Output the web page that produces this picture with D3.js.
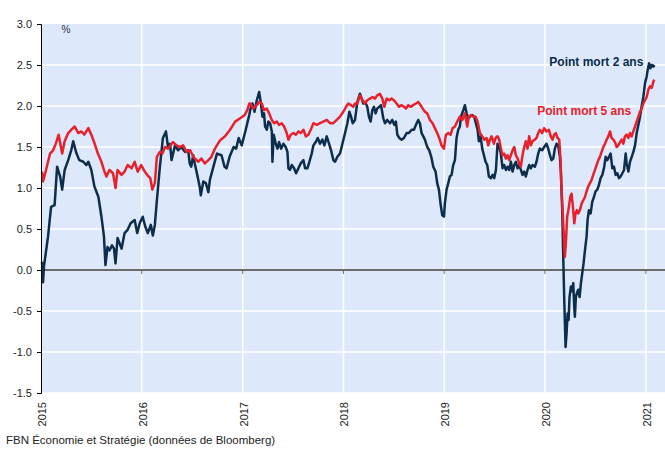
<!DOCTYPE html>
<html>
<head>
<meta charset="utf-8">
<script src="https://cdn.jsdelivr.net/npm/d3@7"></script>
<style>
  body { margin: 0; background: #fff; }
  text { font-family: Arial, "Liberation Sans", sans-serif; }
</style>
</head>
<body>
<svg id="chart"></svg>
<script>
// values (decimal year, %)
const yTicks = [-1.5, -1.0, -0.5, 0.0, 0.5, 1.0, 1.5, 2.0, 2.5, 3.0];
const xYears = [2015, 2016, 2017, 2018, 2019, 2020, 2021];
const seriesLabels = ["Point mort 2 ans", "Point mort 5 ans"];
const unitLabel = "%";
const sourceText = "FBN Économie et Stratégie (données de Bloomberg)";

const pointMort2 = [
  [2015.01,0.10],[2015.02,-0.15],[2015.03,0.05],[2015.07,0.41],[2015.10,0.77],[2015.135,0.79],[2015.16,1.26],[2015.19,1.14],
  [2015.21,0.98],[2015.235,1.22],[2015.27,1.34],[2015.30,1.46],[2015.32,1.57],[2015.35,1.43],[2015.38,1.34],[2015.42,1.32],
  [2015.45,1.28],[2015.47,1.32],[2015.50,1.22],[2015.53,1.02],[2015.57,0.89],[2015.60,0.65],[2015.625,0.41],[2015.64,0.06],
  [2015.66,0.28],[2015.68,0.24],[2015.705,0.30],[2015.725,0.26],[2015.74,0.08],[2015.76,0.39],[2015.80,0.26],[2015.83,0.45],
  [2015.86,0.49],[2015.89,0.57],[2015.93,0.61],[2015.955,0.45],[2015.98,0.57],[2016.01,0.65],[2016.035,0.53],[2016.06,0.45],
  [2016.09,0.55],[2016.11,0.42],[2016.13,0.55],[2016.15,0.85],[2016.18,1.26],[2016.21,1.61],[2016.24,1.69],[2016.26,1.50],
  [2016.28,1.54],[2016.295,1.34],[2016.33,1.52],[2016.36,1.46],[2016.39,1.50],[2016.43,1.44],[2016.46,1.46],[2016.475,1.30],
  [2016.49,1.26],[2016.51,1.40],[2016.525,1.30],[2016.55,1.16],[2016.575,1.01],[2016.585,0.91],[2016.61,1.08],[2016.635,1.06],
  [2016.66,0.95],[2016.675,1.10],[2016.71,1.26],[2016.745,1.42],[2016.79,1.40],[2016.82,1.26],[2016.84,1.24],[2016.87,1.38],
  [2016.91,1.50],[2016.935,1.48],[2016.96,1.61],[2016.99,1.52],[2017.03,1.71],[2017.065,1.89],
  [2017.074,1.95],[2017.097,2.03],[2017.117,1.93],[2017.140,2.07],[2017.163,2.17],[2017.179,2.05],[2017.196,1.87],[2017.212,1.91],
  [2017.222,1.75],[2017.239,1.71],[2017.255,1.81],[2017.272,1.79],[2017.289,1.69],[2017.295,1.32],[2017.308,1.65],[2017.328,1.54],
  [2017.345,1.48],[2017.361,1.56],[2017.381,1.48],[2017.404,1.54],[2017.427,1.50],[2017.444,1.44],[2017.454,1.24],[2017.470,1.22],
  [2017.487,1.28],[2017.510,1.24],[2017.530,1.18],[2017.553,1.24],[2017.576,1.30],[2017.603,1.34],[2017.619,1.24],[2017.642,1.24],
  [2017.662,1.32],[2017.685,1.42],[2017.702,1.52],[2017.725,1.56],[2017.745,1.61],[2017.768,1.54],[2017.791,1.59],[2017.811,1.52],
  [2017.834,1.63],[2017.857,1.54],[2017.877,1.46],[2017.900,1.34],[2017.917,1.32],[2017.940,1.38],[2017.966,1.42],[2017.990,1.54],
  [2018.016,1.67],[2018.039,1.79],[2018.059,1.93],[2018.076,1.87],[2018.092,1.79],[2018.115,1.83],
  [2018.138,2.05],[2018.164,2.15],[2018.181,2.09],[2018.197,2.03],[2018.214,2.05],[2018.237,1.99],[2018.253,1.87],[2018.270,1.81],
  [2018.287,1.95],[2018.303,1.99],[2018.320,1.91],[2018.336,1.97],[2018.356,1.99],[2018.373,2.01],[2018.396,1.85],[2018.412,1.79],
  [2018.435,1.83],[2018.462,1.79],[2018.485,1.83],[2018.505,1.77],[2018.521,1.81],[2018.535,1.65],[2018.554,1.61],[2018.578,1.59],
  [2018.601,1.61],[2018.627,1.67],[2018.650,1.67],[2018.677,1.71],[2018.700,1.71],[2018.720,1.77],[2018.743,1.83],[2018.759,1.79],
  [2018.776,1.67],[2018.793,1.63],[2018.809,1.59],[2018.832,1.50],[2018.852,1.46],[2018.872,1.38],[2018.892,1.26],[2018.915,1.20],
  [2018.931,1.06],[2018.948,0.98],[2018.964,0.81],[2018.981,0.67],[2018.998,0.65],[2019.007,0.81],[2019.024,0.98],[2019.041,1.06],
  [2019.057,1.14],[2019.074,1.16],[2019.090,1.28],[2019.107,1.34],[2019.123,1.61],[2019.140,1.71],[2019.156,1.75],
  [2019.167,1.87],[2019.190,1.95],[2019.206,2.01],[2019.223,1.91],[2019.239,1.85],[2019.256,1.87],[2019.279,1.89],[2019.299,1.87],
  [2019.315,1.79],[2019.332,1.71],[2019.345,1.57],[2019.362,1.63],[2019.378,1.48],[2019.395,1.40],[2019.411,1.32],[2019.428,1.28],
  [2019.444,1.14],[2019.464,1.12],[2019.481,1.16],[2019.497,1.12],[2019.514,1.22],[2019.530,1.54],[2019.547,1.50],[2019.563,1.42],
  [2019.580,1.24],[2019.596,1.28],[2019.613,1.22],[2019.629,1.26],[2019.646,1.22],[2019.663,1.32],[2019.679,1.20],[2019.696,1.28],
  [2019.712,1.32],[2019.729,1.24],[2019.745,1.28],[2019.762,1.22],[2019.778,1.16],[2019.795,1.20],[2019.811,1.14],[2019.828,1.22],
  [2019.844,1.28],[2019.861,1.24],[2019.877,1.28],[2019.901,1.26],[2019.917,1.32],[2019.934,1.42],[2019.950,1.48],[2019.973,1.46],
  [2019.993,1.50],[2020.016,1.54],[2020.033,1.48],[2020.050,1.40],[2020.066,1.34],[2020.083,1.36],[2020.099,1.48],[2020.116,1.54],
  [2020.132,1.52],[2020.149,1.38],[2020.159,1.18],[2020.172,0.73],[2020.182,0.16],[2020.192,-0.37],[2020.205,-0.94],[2020.215,-0.77],
  [2020.225,-0.53],[2020.235,-0.61],[2020.244,-0.33],[2020.258,-0.20],[2020.271,-0.26],[2020.281,-0.16],[2020.291,-0.45],[2020.297,-0.57],
  [2020.307,-0.33],[2020.317,-0.28],[2020.330,-0.24],[2020.344,-0.33],[2020.357,-0.16],[2020.370,-0.04],[2020.383,0.08],[2020.397,0.24],
  [2020.413,0.41],[2020.423,0.61],[2020.436,0.73],[2020.453,0.69],[2020.469,0.83],[2020.486,0.89],[2020.502,0.96],[2020.519,0.98],
  [2020.536,1.04],[2020.552,1.12],[2020.569,1.16],[2020.585,1.24],[2020.602,1.38],[2020.618,1.34],[2020.635,1.38],[2020.651,1.42],
  [2020.668,1.24],[2020.684,1.26],[2020.701,1.16],[2020.717,1.18],[2020.734,1.12],[2020.750,1.14],[2020.767,1.18],[2020.784,1.22],
  [2020.800,1.42],[2020.810,1.30],[2020.827,1.20],[2020.843,1.32],[2020.860,1.38],[2020.876,1.44],[2020.893,1.52],[2020.909,1.67],
  [2020.926,1.77],[2020.942,1.87],[2020.959,2.00],[2020.975,2.11],[2020.992,2.28],[2021.008,2.36],[2021.018,2.44],[2021.032,2.52],
  [2021.045,2.46],[2021.058,2.50],[2021.075,2.48],[2021.085,2.50]
];

const pointMort5 = [
  [2015.01,1.20],[2015.02,1.08],[2015.05,1.22],[2015.09,1.42],[2015.12,1.46],[2015.15,1.55],[2015.175,1.65],[2015.21,1.42],
  [2015.235,1.57],[2015.27,1.67],[2015.30,1.71],[2015.335,1.75],[2015.37,1.67],[2015.40,1.69],[2015.43,1.65],[2015.47,1.73],
  [2015.50,1.65],[2015.53,1.55],[2015.565,1.42],[2015.60,1.32],[2015.63,1.20],[2015.65,1.14],[2015.68,1.22],[2015.715,1.18],
  [2015.74,1.00],[2015.76,1.22],[2015.80,1.16],[2015.83,1.20],[2015.86,1.28],[2015.90,1.24],[2015.93,1.32],[2015.96,1.20],
  [2015.995,1.28],[2016.03,1.20],[2016.06,1.15],[2016.085,1.12],[2016.105,0.98],[2016.13,1.06],[2016.15,1.38],[2016.18,1.44],
  [2016.205,1.42],[2016.23,1.50],[2016.26,1.48],[2016.31,1.56],[2016.345,1.52],[2016.38,1.50],[2016.41,1.52],[2016.445,1.44],
  [2016.48,1.46],[2016.51,1.38],[2016.56,1.32],[2016.59,1.36],[2016.625,1.30],[2016.66,1.34],[2016.69,1.38],[2016.725,1.48],
  [2016.775,1.58],[2016.825,1.63],[2016.875,1.71],[2016.925,1.81],[2016.975,1.85],[2017.02,1.89],[2017.045,1.95],[2017.065,2.03],
  [2017.074,2.03],[2017.107,1.97],[2017.140,2.01],[2017.163,2.05],[2017.189,2.03],[2017.212,1.95],[2017.239,1.97],[2017.262,1.91],
  [2017.289,1.83],[2017.312,1.79],[2017.338,1.81],[2017.361,1.77],[2017.387,1.79],[2017.411,1.75],[2017.437,1.67],[2017.454,1.59],
  [2017.477,1.65],[2017.503,1.67],[2017.527,1.65],[2017.553,1.69],[2017.576,1.67],[2017.603,1.71],[2017.626,1.63],[2017.652,1.65],
  [2017.675,1.71],[2017.702,1.79],[2017.735,1.77],[2017.768,1.79],[2017.801,1.81],[2017.834,1.83],[2017.867,1.79],[2017.900,1.79],
  [2017.933,1.83],[2017.966,1.87],[2017.999,1.93],[2018.026,1.99],[2018.049,2.03],[2018.076,2.01],[2018.099,1.99],[2018.115,2.03],
  [2018.138,2.03],[2018.164,2.13],[2018.190,2.07],[2018.214,2.03],[2018.237,2.07],[2018.263,2.09],[2018.290,2.11],[2018.313,2.09],
  [2018.336,2.13],[2018.362,2.15],[2018.386,2.09],[2018.406,1.99],[2018.429,2.09],[2018.455,2.07],[2018.478,2.09],[2018.501,2.07],
  [2018.528,2.03],[2018.551,1.99],[2018.578,2.01],[2018.601,1.99],[2018.621,1.97],[2018.644,2.01],[2018.667,1.99],[2018.693,2.01],
  [2018.720,2.03],[2018.743,2.05],[2018.766,2.01],[2018.786,1.97],[2018.809,1.93],[2018.832,1.91],[2018.859,1.83],[2018.885,1.79],
  [2018.908,1.73],[2018.931,1.67],[2018.951,1.61],[2018.974,1.52],[2018.998,1.48],[2019.017,1.65],[2019.041,1.67],[2019.064,1.65],
  [2019.084,1.73],[2019.107,1.75],[2019.130,1.81],[2019.156,1.87],
  [2019.180,1.83],[2019.206,1.91],[2019.229,1.75],[2019.246,1.87],[2019.266,1.89],[2019.289,1.87],[2019.312,1.87],[2019.332,1.81],
  [2019.355,1.67],[2019.378,1.63],[2019.398,1.59],[2019.421,1.61],[2019.438,1.52],[2019.454,1.59],[2019.471,1.63],[2019.494,1.54],
  [2019.510,1.61],[2019.530,1.63],[2019.547,1.59],[2019.563,1.48],[2019.580,1.40],[2019.596,1.42],[2019.613,1.36],[2019.629,1.40],
  [2019.646,1.34],[2019.663,1.40],[2019.679,1.46],[2019.696,1.50],[2019.712,1.40],[2019.729,1.36],[2019.745,1.30],[2019.762,1.26],
  [2019.778,1.40],[2019.795,1.50],[2019.811,1.57],[2019.828,1.48],[2019.844,1.63],[2019.861,1.52],[2019.877,1.57],[2019.901,1.59],
  [2019.917,1.61],[2019.934,1.67],[2019.950,1.71],[2019.973,1.67],[2019.993,1.73],[2020.016,1.69],[2020.040,1.71],[2020.059,1.63],
  [2020.076,1.59],[2020.092,1.65],[2020.109,1.67],[2020.126,1.61],[2020.142,1.59],[2020.155,1.34],[2020.165,0.98],[2020.182,0.57],
  [2020.198,0.16],[2020.208,0.33],[2020.221,0.65],[2020.238,0.77],[2020.251,0.89],[2020.264,0.93],[2020.278,0.77],[2020.291,0.57],
  [2020.304,0.69],[2020.317,0.73],[2020.330,0.69],[2020.347,0.73],[2020.364,0.81],[2020.380,0.85],[2020.397,0.89],[2020.413,0.96],
  [2020.430,1.02],[2020.446,1.06],[2020.463,1.10],[2020.479,1.16],[2020.496,1.22],[2020.512,1.28],[2020.529,1.34],[2020.545,1.38],
  [2020.562,1.44],[2020.579,1.50],[2020.595,1.54],[2020.612,1.59],[2020.628,1.63],[2020.645,1.69],[2020.661,1.61],[2020.678,1.59],
  [2020.694,1.56],[2020.711,1.50],[2020.727,1.52],[2020.744,1.56],[2020.760,1.59],[2020.777,1.54],[2020.793,1.63],[2020.810,1.65],
  [2020.827,1.61],[2020.843,1.67],[2020.860,1.63],[2020.876,1.69],[2020.893,1.75],[2020.909,1.81],[2020.926,1.87],[2020.942,1.93],
  [2020.959,1.97],[2020.975,2.03],[2020.992,2.07],[2021.008,2.11],[2021.025,2.20],[2021.041,2.24],[2021.058,2.22],[2021.075,2.30],
  [2021.085,2.32]
];

// decimal year -> Date
function toDate(y) {
  const yr = Math.floor(y);
  const start = new Date(yr, 0, 1), end = new Date(yr + 1, 0, 1);
  return new Date(+start + (y - yr) * (end - start));
}

const W = 665, H = 449;
const margin = {top: 24, right: 0, bottom: 56, left: 41};
const width = W - margin.left - margin.right;
const height = H - margin.top - margin.bottom;
const navy = "#0c2d4c", red = "#e8202b";

const svg = d3.select("#chart").attr("width", W).attr("height", H);
const chart = svg.append("g").attr("transform", `translate(${margin.left},${margin.top})`);

const x = d3.scaleTime().domain([toDate(2015), toDate(2021.19)]).range([0, width]);
const y = d3.scaleLinear().domain([-1.5, 3.0]).range([height, 0]);

// plot background
chart.append("rect").attr("width", width).attr("height", height).attr("fill", "#dde9fa");

// white grid
chart.append("g").selectAll("line").data(yTicks.filter(d => d !== 0 && d !== 3.0)).join("line")
  .attr("x1", 0).attr("x2", width)
  .attr("y1", d => y(d)).attr("y2", d => y(d))
  .attr("stroke", "#fff").attr("stroke-width", 1.5);
chart.append("g").selectAll("line").data(xYears.slice(1)).join("line")
  .attr("x1", d => x(toDate(d))).attr("x2", d => x(toDate(d)))
  .attr("y1", 0).attr("y2", height)
  .attr("stroke", "#fff").attr("stroke-width", 1.5);

// zero line with year ticks
chart.append("line").attr("x1", 0).attr("x2", width)
  .attr("y1", y(0)).attr("y2", y(0))
  .attr("stroke", "#6b6b6b").attr("stroke-width", 2);
chart.append("g").selectAll("line").data(xYears.slice(1)).join("line")
  .attr("x1", d => x(toDate(d))).attr("x2", d => x(toDate(d)))
  .attr("y1", y(0)).attr("y2", y(0) + 4)
  .attr("stroke", "#6b6b6b").attr("stroke-width", 1);

// lines
const line = d3.line().x(d => x(toDate(d[0]))).y(d => y(d[1]));
chart.append("path").datum(pointMort2).attr("d", line)
  .attr("fill", "none").attr("stroke", navy).attr("stroke-width", 2.5).attr("stroke-linejoin", "round");
chart.append("path").datum(pointMort5).attr("d", line)
  .attr("fill", "none").attr("stroke", red).attr("stroke-width", 2.5).attr("stroke-linejoin", "round");

// y axis
const yAxis = d3.axisLeft(y).tickValues(yTicks).tickFormat(d => d.toFixed(1)).tickSize(4).tickPadding(5);
const yAxisG = chart.append("g").call(yAxis);
yAxisG.select(".domain").attr("stroke", "#000");
yAxisG.selectAll("text").attr("font-size", 11).attr("fill", "#222");

// x labels (rotated)
chart.append("g").selectAll("text").data(xYears).join("text")
  .attr("transform", d => `translate(${x(toDate(d)) + 1},${height + 9}) rotate(-90)`)
  .attr("text-anchor", "end").attr("dy", "0.35em")
  .attr("font-size", 11).attr("fill", "#222")
  .text(d => d);

// unit label
chart.append("text").attr("x", 25).attr("y", 9).attr("text-anchor", "middle")
  .attr("font-size", 10).attr("fill", "#333").text(unitLabel);

// series labels
chart.append("text").attr("x", x(toDate(2020.975))).attr("y", y(2.49))
  .attr("text-anchor", "end").attr("font-size", 12).attr("font-weight", "bold")
  .attr("fill", navy).text(seriesLabels[0]);
chart.append("text").attr("x", x(toDate(2020.855))).attr("y", y(1.89))
  .attr("text-anchor", "end").attr("font-size", 12).attr("font-weight", "bold")
  .attr("fill", red).text(seriesLabels[1]);

// source
svg.append("text").attr("x", 6).attr("y", 444).attr("font-size", 11.5).attr("fill", "#222").text(sourceText);
</script>
</body>
</html>
